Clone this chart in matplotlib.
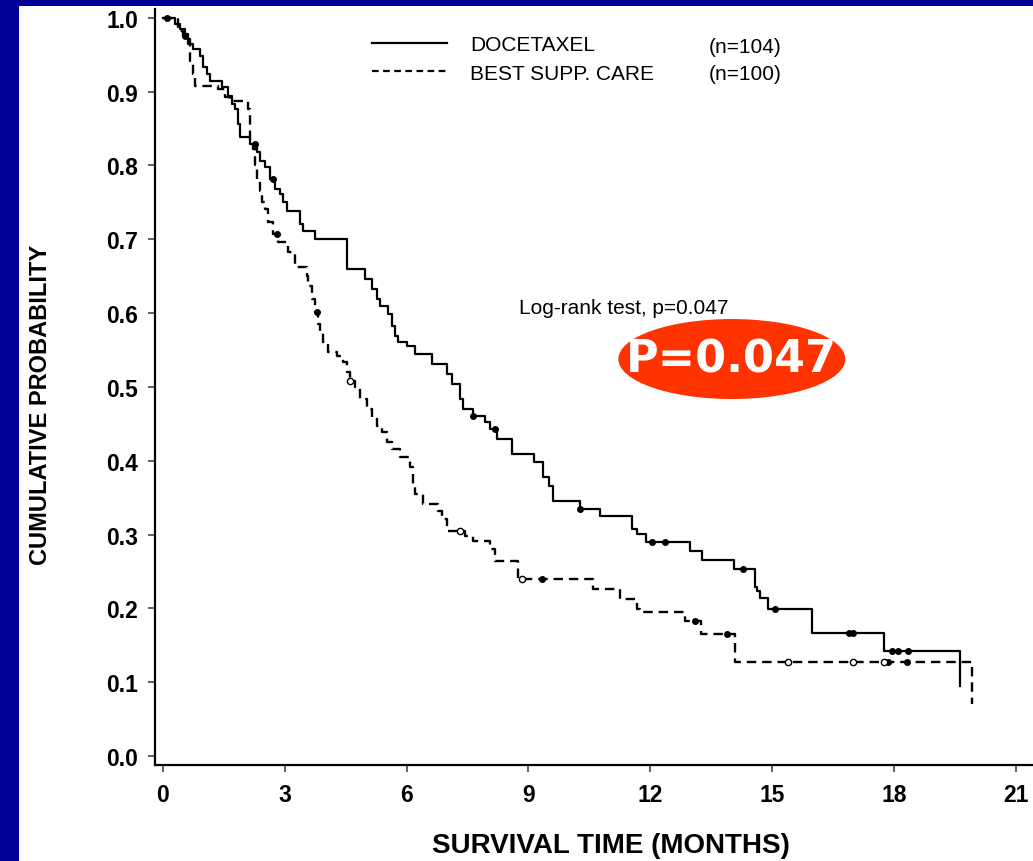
import matplotlib
matplotlib.use("Agg")
import matplotlib.pyplot as plt
import numpy as np
from matplotlib.patches import Ellipse, Rectangle
from matplotlib.lines import Line2D

# Kaplan-Meier steps: time (months) -> survival after the drop
doc_t = [0.00, 0.30, 0.42, 0.54, 0.62, 0.74, 0.91, 0.99, 1.08, 1.16, 1.45, 1.60,
         1.70, 1.77, 1.85, 1.90, 2.14, 2.32, 2.39, 2.51, 2.64, 2.76, 2.87, 2.96,
         3.05, 3.37, 3.45, 3.74, 4.53, 4.98, 5.15, 5.27, 5.34, 5.54, 5.64, 5.71,
         5.79, 6.01, 6.21, 6.63, 7.00, 7.12, 7.32, 7.39, 7.64, 7.93, 8.05, 8.23,
         8.60, 9.15, 9.35, 9.52, 9.61, 10.27, 10.76, 11.55, 11.67, 11.90, 12.98,
         13.28, 14.06, 14.58, 14.63, 14.70, 14.90, 15.99, 17.76, 19.63]
doc_s = [1.000, 0.992, 0.985, 0.978, 0.965, 0.958, 0.948, 0.934, 0.924, 0.915, 0.906, 0.894,
         0.883, 0.877, 0.856, 0.839, 0.829, 0.818, 0.806, 0.798, 0.782, 0.768, 0.762, 0.751,
         0.738, 0.721, 0.711, 0.700, 0.660, 0.646, 0.633, 0.619, 0.610, 0.599, 0.583, 0.569,
         0.561, 0.556, 0.545, 0.531, 0.518, 0.504, 0.484, 0.470, 0.461, 0.453, 0.443, 0.430,
         0.409, 0.398, 0.378, 0.366, 0.346, 0.335, 0.325, 0.308, 0.301, 0.290, 0.278,
         0.266, 0.253, 0.229, 0.224, 0.214, 0.199, 0.167, 0.142, 0.095]
doc_cens = [0.10, 2.27, 2.70, 7.64, 8.18, 10.27, 12.04, 12.36, 14.28, 15.07,
            16.90, 17.00, 17.95, 18.10, 18.35]

bsc_t = [0.00, 0.37, 0.49, 0.62, 0.67, 0.74, 0.79, 1.35, 1.53, 1.65, 2.09, 2.14,
         2.22, 2.27, 2.32, 2.39, 2.44, 2.51, 2.58, 2.71, 2.83, 3.08, 3.25, 3.55,
         3.57, 3.67, 3.74, 3.82, 3.87, 3.94, 4.06, 4.29, 4.43, 4.53, 4.61, 4.73,
         4.85, 5.02, 5.15, 5.27, 5.39, 5.52, 5.64, 5.84, 6.08, 6.16, 6.21, 6.40,
         6.77, 6.87, 7.00, 7.44, 7.64, 8.05, 8.18, 8.74, 10.59, 11.26, 11.67, 11.75,
         12.85, 13.25, 14.10, 19.93]
bsc_s = [1.000, 0.982, 0.976, 0.971, 0.942, 0.924, 0.908, 0.904, 0.893, 0.888, 0.877, 0.832,
         0.822, 0.800, 0.782, 0.766, 0.751, 0.741, 0.723, 0.707, 0.696, 0.683, 0.663, 0.650,
         0.637, 0.619, 0.602, 0.585, 0.575, 0.561, 0.547, 0.542, 0.534, 0.520, 0.508, 0.500,
         0.484, 0.470, 0.459, 0.447, 0.439, 0.425, 0.416, 0.405, 0.392, 0.366, 0.355, 0.341,
         0.332, 0.321, 0.305, 0.298, 0.291, 0.280, 0.264, 0.240, 0.226, 0.213, 0.199, 0.195,
         0.183, 0.165, 0.127, 0.070]
bsc_cens = [0.55, 2.80, 3.80, 9.34, 13.10, 13.90, 17.85, 18.33]
bsc_open = [4.61, 7.32, 8.84, 15.39, 16.99, 17.75]

x_ticks = [0, 3, 6, 9, 12, 15, 18, 21]
y_ticks = [0.0, 0.1, 0.2, 0.3, 0.4, 0.5, 0.6, 0.7, 0.8, 0.9, 1.0]
y_labels = ["0.0", "0.1", "0.2", "0.3", "0.4", "0.5", "0.6", "0.7", "0.8", "0.9", "1.0"]


def surv_at(times, steps_t, steps_s):
    idx = np.searchsorted(steps_t, times, side="right") - 1
    return np.asarray(steps_s)[idx]


plt.rcParams["font.family"] = ["Liberation Sans", "DejaVu Sans"]

fig = plt.figure(figsize=(10.33, 8.62), dpi=100)
fig.patch.set_facecolor("#000099")
fig.add_artist(Rectangle((19 / 1033, 0), 1, 855 / 862, transform=fig.transFigure,
                         facecolor="white", edgecolor="none", zorder=-10))

ax = fig.add_axes([155 / 1033, 96 / 862, 878 / 1033, 756 / 862])
ax.set_facecolor("none")
ax.set_zorder(1)

ax.step(doc_t, doc_s, where="post", color="black", lw=1.6)
ax.step(bsc_t, bsc_s, where="post", color="black", lw=1.7, linestyle=(0, (4, 2.5)))

ax.plot(doc_cens, surv_at(doc_cens, doc_t, doc_s), "o", ms=4, color="black")
ax.plot(bsc_cens, surv_at(bsc_cens, bsc_t, bsc_s), "o", ms=4, color="black")
ax.plot(bsc_open, surv_at(bsc_open, bsc_t, bsc_s), "o", ms=4.5, mfc="white",
        mec="black", mew=1)

ax.set_xlim(-0.197, 21.43)
ax.set_ylim(-0.0122, 1.012)
ax.spines["top"].set_visible(False)
ax.spines["right"].set_visible(False)
ax.spines["left"].set_linewidth(1.6)
ax.spines["bottom"].set_linewidth(1.6)

ax.set_xticks(x_ticks)
ax.set_xticklabels([str(v) for v in x_ticks], fontweight="bold", fontsize=16.5)
ax.set_yticks(y_ticks)
ax.set_yticklabels(y_labels, fontweight="bold", fontsize=16.5)
ax.tick_params(axis="both", direction="out", length=5, width=1.2, color="#444444")
ax.tick_params(axis="y", pad=7)
ax.tick_params(axis="x", pad=8)

ax.set_xlabel("SURVIVAL TIME (MONTHS)", fontweight="bold", fontsize=20)
ax.xaxis.set_label_coords(0.519, -0.088)
ax.set_ylabel("CUMULATIVE PROBABILITY", fontweight="bold", fontsize=17)
ax.yaxis.set_label_coords(-0.117, 0.4775)

handles = [Line2D([], [], color="black", lw=1.6),
           Line2D([], [], color="black", lw=1.6, linestyle=(0, (3, 2)))]
ax.legend(handles, ["DOCETAXEL", "BEST SUPP. CARE"], loc="center left",
          bbox_to_anchor=(0.247, 0.934), frameon=False, fontsize=15,
          handlelength=3.6, handletextpad=1.1, labelspacing=0.45,
          borderpad=0, borderaxespad=0)
ax.text(0.631, 0.951, "(n=104)", transform=ax.transAxes, fontsize=15, va="center")
ax.text(0.631, 0.915, "(n=100)", transform=ax.transAxes, fontsize=15, va="center")

ax.text(0.4146, 0.605, "Log-rank test, p=0.047", transform=ax.transAxes,
        fontsize=15, va="center")

ax.add_patch(Ellipse((0.657, 0.537), 0.2585, 0.1058, transform=ax.transAxes,
                     facecolor="#ff3300", edgecolor="none", zorder=5))
ax.text(0.657, 0.537, "P=0.047", transform=ax.transAxes, color="white",
        fontsize=32, fontweight="bold", family="DejaVu Sans",
        ha="center", va="center", zorder=6)

fig.savefig("out.png", dpi=100)
